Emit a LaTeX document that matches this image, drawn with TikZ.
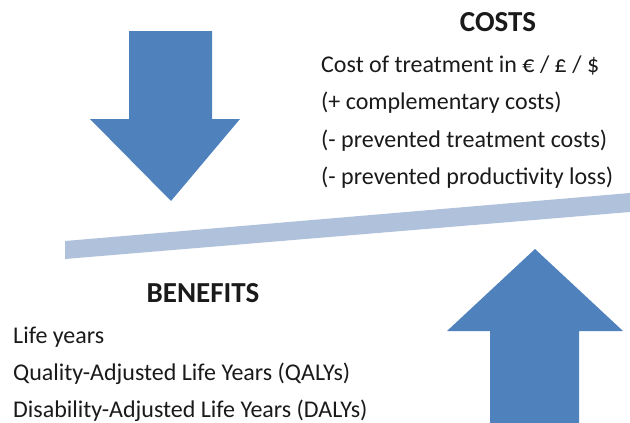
\documentclass[tikz,border=0pt]{standalone}
\usepackage{fontspec}
\setmainfont{Carlito}
\definecolor{arrowblue}{HTML}{4F81BD}
\definecolor{barblue}{HTML}{B0C1DC}
\definecolor{txt}{HTML}{1A1A1A}
\begin{document}
\begin{tikzpicture}[x=1pt,y=-1pt,
  txtline/.style={anchor=base west,inner sep=0pt,text=txt,font=\fontsize{24}{28}\selectfont},
  heading/.style={anchor=base,inner sep=0pt,text=txt,font=\fontsize{29}{34}\selectfont\bfseries},
  bigarrow/.style={fill=arrowblue,draw=none}]
\useasboundingbox (0,0) rectangle (630,423);
% balance bar
\fill[barblue] (65,241) -- (630,193) -- (630,212) -- (65,259) -- cycle;
% down arrow (costs)
\fill[bigarrow] (129,31) -- (212,31) -- (212,119) -- (240,119) -- (171,201) -- (90,119) -- (129,119) -- cycle;
% up arrow (benefits)
\fill[bigarrow] (490,423) -- (490,331) -- (447,331) -- (535,249) -- (623,331) -- (579,331) -- (579,423) -- cycle;
% costs text
\node[heading] (costs) at (498,31.5) {COSTS};
\node[txtline] (c1) at (321,72) {Cost of treatment in € / £ / \$};
\node[txtline] (c2) at (321,109.5) {(+ complementary costs)};
\node[txtline] (c3) at (321,147) {(- prevented treatment costs)};
\node[txtline] (c4) at (321,184.5) {(- prevented productivity loss)};
% benefits text
\node[heading] (benefits) at (203,302) {BENEFITS};
\node[txtline] (b1) at (13,343) {Life years};
\node[txtline] (b2) at (13,380) {Quality-Adjusted Life Years (QALYs)};
\node[txtline] (b3) at (13,417) {Disability-Adjusted Life Years (DALYs)};
\end{tikzpicture}
\end{document}
